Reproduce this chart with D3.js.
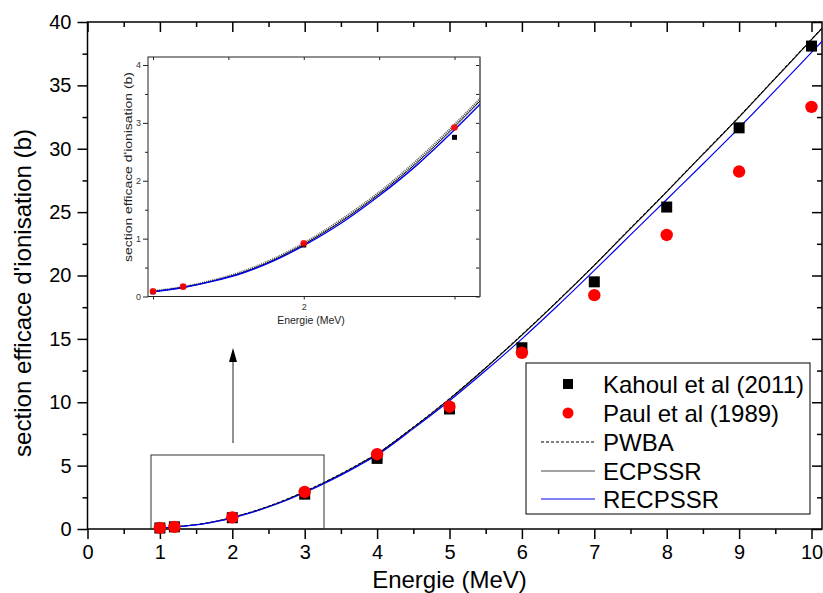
<!DOCTYPE html>
<html>
<head>
<meta charset="utf-8">
<script src="https://cdn.jsdelivr.net/npm/d3@7"></script>
<style>
  html, body { margin: 0; padding: 0; background: #fff; }
  svg { display: block; font-family: "Liberation Sans", Arial, sans-serif; }
</style>
</head>
<body>
<svg id="chart" width="823" height="593"></svg>
<script>
// ---------------- data ----------------
const energiesExp = [1, 1.2, 2, 3, 4, 5, 6, 7, 8, 9, 10];
const kahoul = [0.08, 0.17, 0.89, 2.75, 5.57, 9.47, 14.3, 19.5, 25.4, 31.65, 38.1];
const paul   = [0.09, 0.17, 0.92, 2.92, 5.9, 9.65, 13.9, 18.45, 23.2, 28.2, 33.3];

const energiesTh = [1, 1.2, 1.4, 1.6, 1.8, 2, 2.25, 2.5, 2.75, 3, 3.25, 3.5, 3.75, 4, 4.5, 5, 5.5, 6, 6.5, 7, 7.5, 8, 8.5, 9, 9.5, 10, 10.5];
const pwba    = [0.09, 0.165, 0.28, 0.435, 0.65, 0.92, 1.33, 1.80, 2.35, 2.97, 3.64, 4.36, 5.14, 5.96, 8.05, 10.3, 12.75, 15.35, 18.05, 20.85, 23.75, 26.65, 29.6, 32.55, 35.6, 38.65, 41.75];
const ecpssr  = [0.085, 0.16, 0.27, 0.42, 0.63, 0.90, 1.30, 1.77, 2.31, 2.93, 3.60, 4.32, 5.10, 5.92, 8.0, 10.25, 12.7, 15.3, 18.0, 20.8, 23.7, 26.6, 29.55, 32.5, 35.55, 38.6, 41.7];
const recpssr = [0.08, 0.155, 0.265, 0.41, 0.615, 0.88, 1.27, 1.74, 2.27, 2.88, 3.54, 4.25, 5.02, 5.84, 7.92, 10.12, 12.5, 15.0, 17.65, 20.4, 23.2, 26.0, 28.8, 31.65, 34.6, 37.6, 40.6];

const xTicks = [0, 1, 2, 3, 4, 5, 6, 7, 8, 9, 10];
const xMinor = [0.5, 1.5, 2.5, 3.5, 4.5, 5.5, 6.5, 7.5, 8.5, 9.5];
const yTicks = [0, 5, 10, 15, 20, 25, 30, 35, 40];
const yMinor = [2.5, 7.5, 12.5, 17.5, 22.5, 27.5, 32.5, 37.5];

const insetXTicks = [1, 2, 3];
const insetXLabels = [2];
const insetXMinor = [1.5, 2.5];
const insetYTicks = [0, 1, 2, 3, 4];
const insetYMinor = [0.5, 1.5, 2.5, 3.5];

const legendItems = ["Kahoul et al (2011)", "Paul et al (1989)", "PWBA", "ECPSSR", "RECPSSR"];

const xTitle = "Energie (MeV)";
const yTitle = "section efficace d'ionisation (b)";

// ---------------- main chart ----------------
const svg = d3.select("#chart");
const L = 87.5, R = 822, T = 22, B = 529;

const x = d3.scaleLinear().domain([0, 10]).range([87.5, 811.5]);
const y = d3.scaleLinear().domain([0, 40]).range([B, T]);

svg.append("defs").append("clipPath").attr("id", "clipMain")
  .append("rect").attr("x", L).attr("y", T).attr("width", R - L).attr("height", B - T);

function styleAxis(g, size) {
  g.select(".domain").remove();
  g.selectAll("line").attr("stroke", "#000").attr("stroke-width", 1.5);
  g.selectAll("text").attr("fill", "#000").style("font-size", size + "px")
    .style("font-family", '"Liberation Sans", Arial, sans-serif');
}

// bottom
svg.append("g").attr("transform", `translate(0,${B})`)
  .call(d3.axisBottom(x).tickValues(xTicks).tickSize(10).tickPadding(6).tickFormat(d3.format("d")))
  .call(g => styleAxis(g, 20));
svg.append("g").attr("transform", `translate(0,${B})`)
  .call(d3.axisBottom(x).tickValues(xMinor).tickSize(5).tickFormat(""))
  .call(g => styleAxis(g, 20));
// top (inward)
svg.append("g").attr("transform", `translate(0,${T})`)
  .call(d3.axisTop(x).tickValues(xTicks).tickSize(-10).tickFormat(""))
  .call(g => styleAxis(g, 20));
svg.append("g").attr("transform", `translate(0,${T})`)
  .call(d3.axisTop(x).tickValues(xMinor).tickSize(-5).tickFormat(""))
  .call(g => styleAxis(g, 20));
// left
svg.append("g").attr("transform", `translate(${L},0)`)
  .call(d3.axisLeft(y).tickValues(yTicks).tickSize(10).tickPadding(6).tickFormat(d3.format("d")))
  .call(g => styleAxis(g, 20));
svg.append("g").attr("transform", `translate(${L},0)`)
  .call(d3.axisLeft(y).tickValues(yMinor).tickSize(5).tickFormat(""))
  .call(g => styleAxis(g, 20));
// right (inward)
svg.append("g").attr("transform", `translate(${R},0)`)
  .call(d3.axisRight(y).tickValues(yTicks).tickSize(-10).tickFormat(""))
  .call(g => styleAxis(g, 20));
svg.append("g").attr("transform", `translate(${R},0)`)
  .call(d3.axisRight(y).tickValues(yMinor).tickSize(-5).tickFormat(""))
  .call(g => styleAxis(g, 20));

// frame
svg.append("rect").attr("x", L).attr("y", T).attr("width", R - L).attr("height", B - T)
  .attr("fill", "none").attr("stroke", "#000").attr("stroke-width", 1.5);

// titles
svg.append("text").attr("x", 449.5).attr("y", 588).attr("text-anchor", "middle")
  .style("font-size", "24px").attr("fill", "#000").text(xTitle);
svg.append("text").attr("transform", "translate(31,293) rotate(-90)").attr("text-anchor", "middle")
  .attr("textLength", 328).attr("lengthAdjust", "spacingAndGlyphs")
  .style("font-size", "24px").attr("fill", "#000").text(yTitle);

// curves
const thData = (vals) => energiesTh.map((e, i) => [e, vals[i]]);
const lineMain = d3.line().x(d => x(d[0])).y(d => y(d[1])).curve(d3.curveMonotoneX);
const gMain = svg.append("g").attr("clip-path", "url(#clipMain)");
gMain.append("path").datum(thData(pwba)).attr("d", lineMain).attr("fill", "none")
  .attr("stroke", "#000").attr("stroke-width", 1).attr("stroke-dasharray", "3,2");
gMain.append("path").datum(thData(ecpssr)).attr("d", lineMain).attr("fill", "none")
  .attr("stroke", "#000").attr("stroke-width", 1.1);
gMain.append("path").datum(thData(recpssr)).attr("d", lineMain).attr("fill", "none")
  .attr("stroke", "#0000ee").attr("stroke-width", 1.2);

// zoom rectangle and arrow
svg.append("rect").attr("x", 151).attr("y", 455).attr("width", 173).attr("height", B - 455)
  .attr("fill", "none").attr("stroke", "#333").attr("stroke-width", 1);
svg.append("line").attr("x1", 233).attr("x2", 233).attr("y1", 443).attr("y2", 360)
  .attr("stroke", "#555").attr("stroke-width", 1.3);
svg.append("path").attr("d", "M233,348 L229,362 L237,362 Z").attr("fill", "#000");

// markers
const sq = 11;
svg.append("g").selectAll("rect").data(energiesExp.map((e, i) => [e, kahoul[i]])).join("rect")
  .attr("x", d => x(d[0]) - sq / 2).attr("y", d => y(d[1]) - sq / 2)
  .attr("width", sq).attr("height", sq).attr("fill", "#000");
svg.append("g").selectAll("circle").data(energiesExp.map((e, i) => [e, paul[i]])).join("circle")
  .attr("cx", d => x(d[0])).attr("cy", d => y(d[1])).attr("r", 6.2).attr("fill", "#ff0000");

// legend
const lg = svg.append("g");
lg.append("rect").attr("x", 526).attr("y", 363).attr("width", 284).attr("height", 151)
  .attr("fill", "#fff").attr("stroke", "#000").attr("stroke-width", 1);
const rowY = [384, 413, 442, 471, 499];
lg.append("rect").attr("x", 568 - 5).attr("y", rowY[0] - 5).attr("width", 10).attr("height", 10).attr("fill", "#000");
lg.append("circle").attr("cx", 568).attr("cy", rowY[1]).attr("r", 5.5).attr("fill", "#ff0000");
lg.append("line").attr("x1", 541).attr("x2", 595).attr("y1", rowY[2]).attr("y2", rowY[2])
  .attr("stroke", "#000").attr("stroke-width", 1).attr("stroke-dasharray", "3,2");
lg.append("line").attr("x1", 541).attr("x2", 595).attr("y1", rowY[3]).attr("y2", rowY[3])
  .attr("stroke", "#444").attr("stroke-width", 1);
lg.append("line").attr("x1", 541).attr("x2", 595).attr("y1", rowY[4]).attr("y2", rowY[4])
  .attr("stroke", "#0000ee").attr("stroke-width", 1);
legendItems.forEach((t, i) => {
  lg.append("text").attr("x", 603).attr("y", rowY[i] + 8.5)
    .style("font-size", "24px").attr("fill", "#000").text(t);
});

// ---------------- inset ----------------
const iL = 148, iR = 480, iT = 57, iB = 296.5;
const xi = d3.scaleLinear().domain([1, 3]).range([153, 454.5]);
const yi = d3.scaleLinear().domain([0, 4]).range([iB, 65]);

svg.select("defs").append("clipPath").attr("id", "clipInset")
  .append("rect").attr("x", iL).attr("y", iT).attr("width", iR - iL).attr("height", iB - iT);

svg.append("rect").attr("x", iL).attr("y", iT).attr("width", iR - iL).attr("height", iB - iT)
  .attr("fill", "#fff");

function styleInset(g) {
  g.select(".domain").remove();
  g.selectAll("line").attr("stroke", "#222").attr("stroke-width", 1);
  g.selectAll("text").attr("fill", "#333").style("font-size", "9px")
    .style("font-family", '"Liberation Sans", Arial, sans-serif');
}
svg.append("g").attr("transform", `translate(0,${iB})`)
  .call(d3.axisBottom(xi).tickValues(insetXTicks).tickSize(3).tickPadding(4)
    .tickFormat(d => insetXLabels.includes(d) ? d3.format("d")(d) : ""))
  .call(styleInset);
svg.append("g").attr("transform", `translate(0,${iT})`)
  .call(d3.axisTop(xi).tickValues(insetXTicks.concat(insetXMinor)).tickSize(-3).tickFormat(""))
  .call(styleInset);
svg.append("g").attr("transform", `translate(${iL},0)`)
  .call(d3.axisLeft(yi).tickValues(insetYTicks).tickSize(5).tickPadding(2).tickFormat(d3.format("d")))
  .call(styleInset);
svg.append("g").attr("transform", `translate(${iL},0)`)
  .call(d3.axisLeft(yi).tickValues(insetYMinor).tickSize(3).tickFormat(""))
  .call(styleInset);
svg.append("g").attr("transform", `translate(${iR},0)`)
  .call(d3.axisRight(yi).tickValues(insetYTicks.concat(insetYMinor)).tickSize(-4).tickFormat(""))
  .call(styleInset);

svg.append("rect").attr("x", iL).attr("y", iT).attr("width", iR - iL).attr("height", iB - iT)
  .attr("fill", "none").attr("stroke", "#222").attr("stroke-width", 1);
svg.append("line").attr("x1", iR).attr("x2", iR).attr("y1", iT).attr("y2", iB)
  .attr("stroke", "#777").attr("stroke-width", 1.6);

svg.append("text").attr("x", 311).attr("y", 323.5).attr("text-anchor", "middle")
  .style("font-size", "10.5px").attr("fill", "#222").text(xTitle);
svg.append("text").attr("transform", "translate(131.5,167) rotate(-90)").attr("text-anchor", "middle")
  .attr("textLength", 190).attr("lengthAdjust", "spacingAndGlyphs")
  .style("font-size", "10.5px").attr("fill", "#222").text(yTitle);

const lineInset = d3.line().x(d => xi(d[0])).y(d => yi(d[1])).curve(d3.curveMonotoneX);
const gIn = svg.append("g").attr("clip-path", "url(#clipInset)");
gIn.append("path").datum(thData(pwba)).attr("d", lineInset).attr("fill", "none")
  .attr("stroke", "#555").attr("stroke-width", 2.2).attr("stroke-dasharray", "1,1");
gIn.append("path").datum(thData(ecpssr)).attr("d", lineInset).attr("fill", "none")
  .attr("stroke", "#000").attr("stroke-width", 1);
gIn.append("path").datum(thData(recpssr)).attr("d", lineInset).attr("fill", "none")
  .attr("stroke", "#0000ee").attr("stroke-width", 1.4);

const sqi = 5;
gIn.append("g").selectAll("rect").data(energiesExp.map((e, i) => [e, kahoul[i]])).join("rect")
  .attr("x", d => xi(d[0]) - sqi / 2).attr("y", d => yi(d[1]) - sqi / 2)
  .attr("width", sqi).attr("height", sqi).attr("fill", "#000");
gIn.append("g").selectAll("circle").data(energiesExp.map((e, i) => [e, paul[i]])).join("circle")
  .attr("cx", d => xi(d[0])).attr("cy", d => yi(d[1])).attr("r", 3.3).attr("fill", "#ff0000")
  .attr("fill-opacity", 0.9);
</script>
</body>
</html>
